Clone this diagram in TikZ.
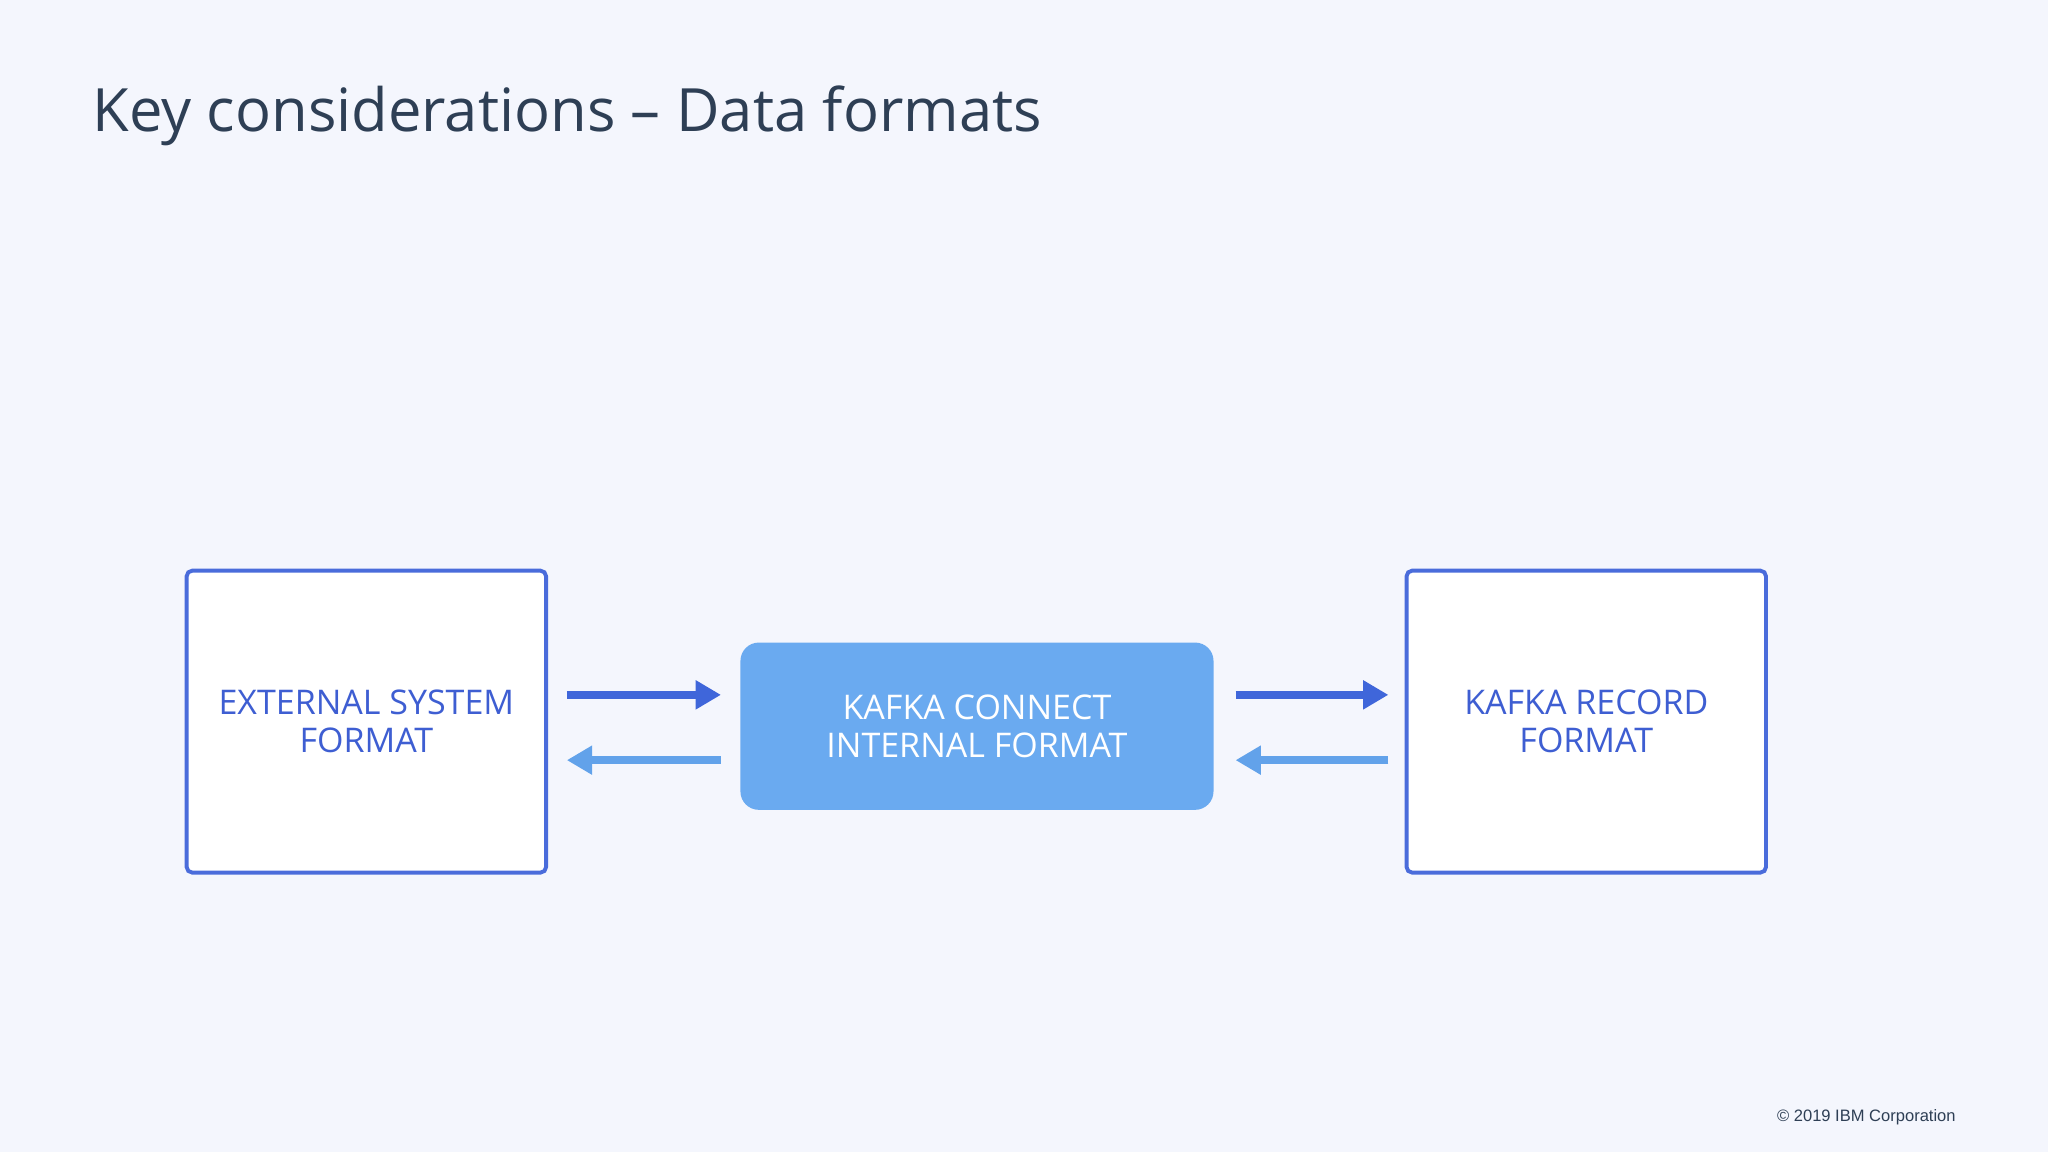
\documentclass[tikz,border=0pt]{standalone}
\usepackage{fontspec}
\setmainfont{Open Sans}
\newfontfamily\arialf{Liberation Sans}
\usetikzlibrary{arrows.meta}
\definecolor{bgc}{HTML}{F4F6FD}
\definecolor{titlec}{HTML}{2E3F55}
\definecolor{boxb}{HTML}{4A6CDB}
\definecolor{txtb}{HTML}{3E5ED2}
\definecolor{midf}{HTML}{6AAAF0}
\definecolor{arrd}{HTML}{3F66DA}
\definecolor{arrl}{HTML}{62A2EA}
\tikzset{
  sqbox/.style={draw=boxb, line width=0.85pt, fill=white, rounded corners=1.2pt, minimum width=2.75cm, minimum height=2.31cm, text=txtb, font=\fontsize{7.4}{8.3}\selectfont, align=center},
  midbox/.style={fill=midf, rounded corners=4pt, minimum width=3.62cm, minimum height=1.28cm, text=white, font=\fontsize{7.4}{8.3}\selectfont, align=center},
  darr/.style={draw=arrd, line width=1.6pt, -{Triangle[length=5.5pt,width=6pt]}},
  larr/.style={draw=arrl, line width=1.6pt, -{Triangle[length=5.5pt,width=6pt]}}
}
\begin{document}
\begin{tikzpicture}[x=0.01cm,y=-0.01cm]
\fill[bgc] (0,0) rectangle (1568,882);
\useasboundingbox (0,0) rectangle (1568,882);
\node[anchor=base west, text=titlec, font=\fontsize{13}{15}\selectfont, inner sep=0] (title) at (70,101) {Key considerations -- Data formats};
\node[sqbox] (ext) at (280.5,552.5) {EXTERNAL SYSTEM\\FORMAT};
\node[midbox] (mid) at (748,556) {KAFKA CONNECT\\INTERNAL FORMAT};
\node[sqbox] (rec) at (1214.5,552.5) {KAFKA RECORD\\FORMAT};
\coordinate (a1) at (434,532); \coordinate (a2) at (552,532);
\coordinate (b1) at (552,582); \coordinate (b2) at (434,582);
\coordinate (c1) at (946,532); \coordinate (c2) at (1063,532);
\coordinate (d1) at (1063,582); \coordinate (d2) at (946,582);
\draw[darr] (a1) -- (a2);
\draw[larr] (b1) -- (b2);
\draw[darr] (c1) -- (c2);
\draw[larr] (d1) -- (d2);
\node[anchor=base east, font=\arialf\fontsize{3.6}{4}\selectfont, text=titlec, inner sep=0] (copy) at (1498,859) {© 2019 IBM Corporation};
\end{tikzpicture}
\end{document}
